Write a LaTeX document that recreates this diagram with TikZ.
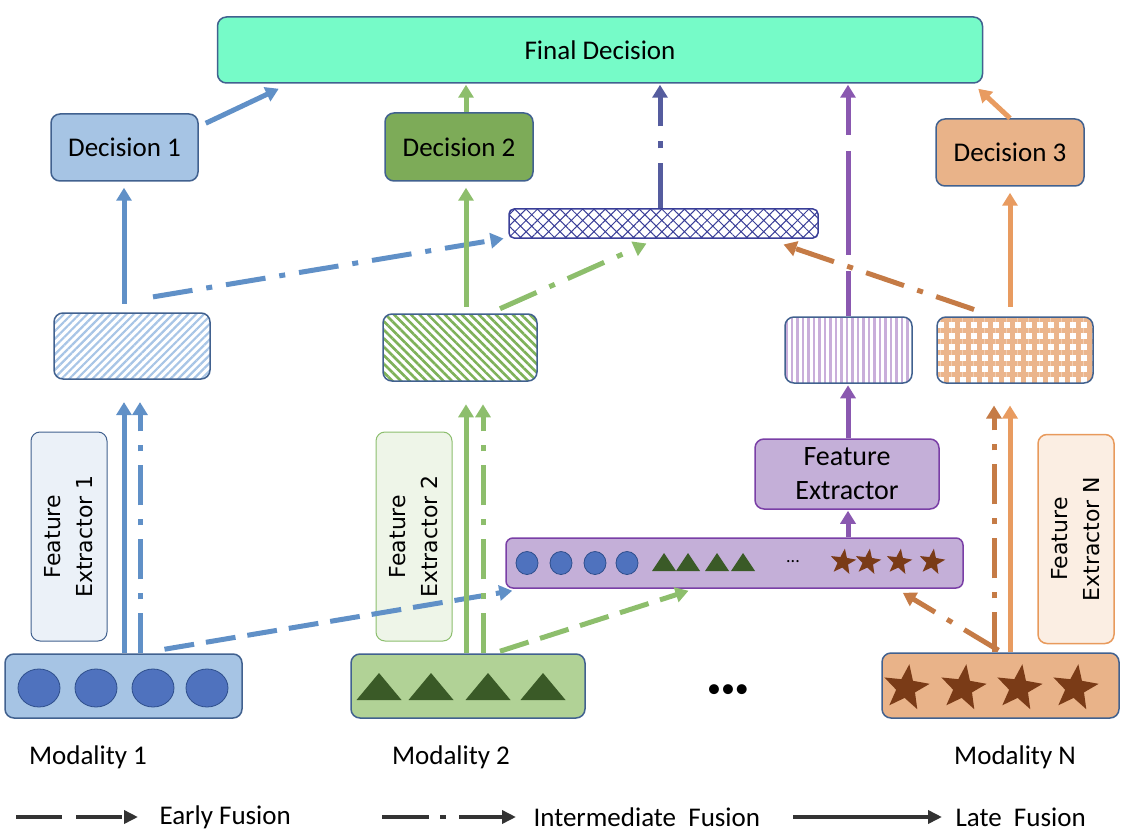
\documentclass[tikz,border=0pt]{standalone}
\usepackage{fontspec}
\setmainfont{Carlito}
\newfontfamily\vfont{DejaVu Sans}
\usetikzlibrary{arrows.meta,patterns.meta,shapes.geometric,calc}
\definecolor{bord}{HTML}{41618F}
\definecolor{finalc}{HTML}{76FBC8}
\definecolor{d1c}{HTML}{A6C4E4}
\definecolor{d2c}{HTML}{7DAB58}
\definecolor{d3c}{HTML}{E9B389}
\definecolor{bluea}{HTML}{6090C7}
\definecolor{greena}{HTML}{8DBE6C}
\definecolor{purplea}{HTML}{8A58B0}
\definecolor{navya}{HTML}{555C9E}
\definecolor{orangea}{HTML}{E89B60}
\definecolor{oranged}{HTML}{C57B46}
\definecolor{purplefill}{HTML}{C4AFD8}
\definecolor{purplebord}{HTML}{7A3FA6}
\definecolor{circc}{HTML}{4F72BE}
\definecolor{circb}{HTML}{2E4E8C}
\definecolor{tric}{HTML}{3A5A27}
\definecolor{starc}{HTML}{7A3B17}
\definecolor{m2c}{HTML}{B1D296}
\definecolor{legc}{HTML}{333333}
\definecolor{fe1c}{HTML}{EBF1F8}
\definecolor{fe2c}{HTML}{EEF5E8}
\definecolor{fe2b}{HTML}{8CBE6E}
\definecolor{fenc}{HTML}{FBEEE3}
\definecolor{fenb}{HTML}{E89A5C}
\definecolor{hatchc}{HTML}{3A3F98}
\definecolor{stripeA}{HTML}{A8C5E6}
\definecolor{stripeB}{HTML}{7EB159}
\definecolor{stripeC}{HTML}{C9AEDA}
\definecolor{stripeD}{HTML}{EBB58C}
\tikzset{
  box/.style={draw=bord, line width=1.5pt, rounded corners=9pt, inner sep=0pt},
  tmain/.style={font=\fontsize{27}{34}\selectfont},
  arr/.style={line width=5pt, -{Triangle[width=15pt,length=13pt]}},
  early/.style={arr, dash pattern=on 30pt off 12pt},
  inter/.style={arr, dash pattern=on 40pt off 14pt on 6pt off 14pt},
  late/.style={arr},
  larr/.style={line width=4.5pt, legc, -{Triangle[width=13pt,length=14pt]}},
  vlabel/.style={rotate=90, rounded corners=9pt, minimum width=209pt, minimum height=76pt, align=center, inner sep=0pt, font=\vfont\fontsize{22}{32}\selectfont},
}
\begin{document}
\begin{tikzpicture}[x=1pt,y=-1pt]
\useasboundingbox (0,0) rectangle (1140,837);

% top level
\node[box, fill=finalc, minimum width=765pt, minimum height=66pt, tmain] (fd) at (600,50) {Final Decision};
\node[box, fill=d1c, minimum width=147pt, minimum height=67pt, tmain] (d1) at (124.5,147.5) {Decision 1};
\node[box, fill=d2c, minimum width=148pt, minimum height=68pt, tmain] (d2) at (459,147) {Decision 2};
\node[box, fill=d3c, minimum width=148pt, minimum height=67pt, tmain] (d3) at (1010,152.5) {Decision 3};

% fused representation
\node[box, draw=hatchc, rounded corners=5pt, minimum width=309pt, minimum height=29pt,
  pattern={Hatch[angle=45,distance=8pt,line width=1pt]}, pattern color=hatchc] (fu) at (663.5,223.5) {};

% pattern boxes
\node[box, minimum width=156pt, minimum height=66pt,
  pattern={Lines[angle=45,distance=5.5pt,line width=2.2pt]}, pattern color=stripeA] (p1) at (132,346) {};
\node[box, minimum width=154pt, minimum height=67pt,
  pattern={Lines[angle=-45,distance=6pt,line width=2.6pt]}, pattern color=stripeB] (p2) at (460,347.5) {};
\node[box, minimum width=127pt, minimum height=66pt,
  pattern={Lines[angle=90,distance=5.5pt,line width=2.6pt]}, pattern color=stripeC] (pv) at (848.5,350) {};
\node[box, minimum width=156pt, minimum height=66pt,
  pattern={Hatch[angle=0,distance=11pt,line width=5pt]}, pattern color=stripeD] (po) at (1015,350) {};

% purple feature extractor and concatenated bar
\node[box, draw=purplebord, fill=purplefill, minimum width=184pt, minimum height=70pt, align=center, font=\fontsize{28}{34}\selectfont] (fe) at (847,474) {Feature\\Extractor};
\node[box, draw=purplebord, fill=purplefill, rounded corners=7pt, minimum width=457pt, minimum height=50pt] (bar) at (734.5,563) {};
\foreach \x in {527,561,595,627} \filldraw[fill=circc, draw=circb, line width=0.8pt] (\x,563) ellipse [x radius=11pt, y radius=11.5pt];
\foreach \x in {664,688,717,743} \fill[tric] (\x-12,571) -- (\x+12,571) -- (\x,553) -- cycle;
\node[font=\fontsize{18}{20}\selectfont] (bdots) at (793,562) {...};
\foreach \x in {843,868,899,932} \node[star, star points=5, star point ratio=2.4, fill=starc, minimum size=27pt, inner sep=0pt, rotate=-8] at (\x,562) {};

% feature extractors (rotated)
\node[box, draw=bord, line width=1pt, fill=fe1c, vlabel] (fe1) at (69,536.5) {Feature\\Extractor 1};
\node[box, draw=fe2b, line width=1pt, fill=fe2c, vlabel] (fe2) at (414,536.5) {Feature\\Extractor 2};
\node[box, draw=fenb, line width=1.5pt, fill=fenc, vlabel] (feN) at (1076,539) {Feature\\Extractor N};

% modality boxes
\node[box, fill=d1c, minimum width=237pt, minimum height=64pt] (m1) at (123.5,686) {};
\foreach \x in {39,96,153,207} \filldraw[fill=circc, draw=circb, line width=0.8pt] (\x,688) ellipse [x radius=21pt, y radius=19pt];
\node[box, fill=m2c, minimum width=234pt, minimum height=64pt] (m2) at (468,686) {};
\foreach \x in {379,431,488,543} \fill[tric] (\x-22.5,700) -- (\x+22.5,700) -- (\x,673) -- cycle;
\node[box, fill=d3c, minimum width=237pt, minimum height=65pt] (mN) at (1000.5,685.5) {};
\foreach \x in {906,963,1019,1075} \node[star, star points=5, star point ratio=2.4, fill=starc, minimum size=48pt, inner sep=0pt, rotate=-8] at (\x,688) {};
\node[font=\fontsize{28}{30}\selectfont] (mdots) at (728,691) {•••};

% modality labels
\node[tmain] (l1) at (88,757) {Modality 1};
\node[tmain] (l2) at (451,757) {Modality 2};
\node[tmain] (lN) at (1015,757) {Modality N};

% column coordinates
\coordinate (c1) at (124,0);
\coordinate (c1d) at (140,0);
\coordinate (c2) at (466,0);
\coordinate (c2d) at (483,0);
\coordinate (cfu) at (660,0);
\coordinate (cpv) at (848,0);
\coordinate (coNd) at (994,0);
\coordinate (coN) at (1010,0);

% ---- modality 1 (blue)
\draw[late, bluea, shorten >=22pt] (m1.north -| c1) -- (p1.south -| c1);
\draw[inter, bluea, shorten >=22pt] (m1.north -| c1d) -- (p1.south -| c1d);
\draw[late, bluea, shorten <=8pt, shorten >=6pt] (p1.north -| c1) -- (d1.south -| c1);
\draw[late, bluea] ([shift={(7,10)}]d1.north east) -- ([shift={(62,5)}]fd.south west);
\draw[inter, bluea] ([shift={(21,-15)}]p1.north) -- ([shift={(-5,0)}]fu.south west);
\draw[early, bluea] ([shift={(41,-4)}]m1.north) -- ([shift={(7,2)}]bar.south west);

% ---- modality 2 (green)
\draw[late, greena, shorten >=22pt] (m2.north -| c2) -- (p2.south -| c2);
\draw[inter, greena, shorten >=22pt] (m2.north -| c2d) -- (p2.south -| c2d);
\draw[late, greena, shorten <=6pt, shorten >=6pt] (p2.north -| c2) -- (d2.south -| c2);
\draw[late, greena, shorten >=1pt] (d2.north -| c2) -- (fd.south -| c2);
\draw[inter, greena] ([shift={(40,-4)}]p2.north) -- ([shift={(-17,5)}]fu.south);
\draw[early, greena] ([shift={(32,-2)}]m2.north) -- ([shift={(-46,2)}]bar.south);

% ---- concatenated (purple / navy)
\draw[late, purplea, shorten >=1pt] (bar.north -| cpv) -- (fe.south -| cpv);
\draw[late, purplea, shorten >=1pt] (fe.north -| cpv) -- (pv.south -| cpv);
\draw[arr, purplea, dash pattern=on 104pt off 16pt, dash phase=59pt, shorten >=1pt] (pv.north -| cpv) -- (fd.south -| cpv);
\draw[arr, navya, dash pattern=on 45pt off 15pt on 7pt off 15pt, shorten >=1pt] (fu.north -| cfu) -- (fd.south -| cfu);

% ---- modality N (orange)
\draw[late, orangea, shorten >=20pt] (mN.north -| coN) -- (po.south -| coN);
\draw[inter, oranged, shorten >=20pt] (mN.north -| coNd) -- (po.south -| coNd);
\draw[late, orangea, shorten <=8pt, shorten >=6pt] (po.north -| coN) -- (d3.south -| coN);
\draw[late, orangea] (d3.north) -- ([shift={(-5,5)}]fd.south east);
\draw[inter, oranged] ([shift={(-41,-5)}]po.north) -- ([shift={(-35,6)}]fu.south east);
\draw[inter, oranged] ([shift={(-2,-2)}]mN.north) -- ([shift={(-61,4)}]bar.south east);

% ---- legend
\node[tmain, anchor=west] (t1) at (156,817) {Early Fusion};
\node[tmain, anchor=west] (t2) at (530,817) {Intermediate\ \ Fusion};
\node[tmain, anchor=west] (t3) at (952,817) {Late\ \ Fusion};
\coordinate (a1) at (16,817);
\coordinate (a2) at (382,817);
\coordinate (a3) at (793,817);
\draw[larr, dash pattern=on 46pt off 14pt, shorten >=18pt] (a1) -- (t1.west);
\draw[larr, dash pattern=on 47pt off 11pt on 6pt off 13pt, shorten >=14pt] (a2) -- (t2.west);
\draw[larr, shorten >=10pt] (a3) -- (t3.west);
\end{tikzpicture}
\end{document}
